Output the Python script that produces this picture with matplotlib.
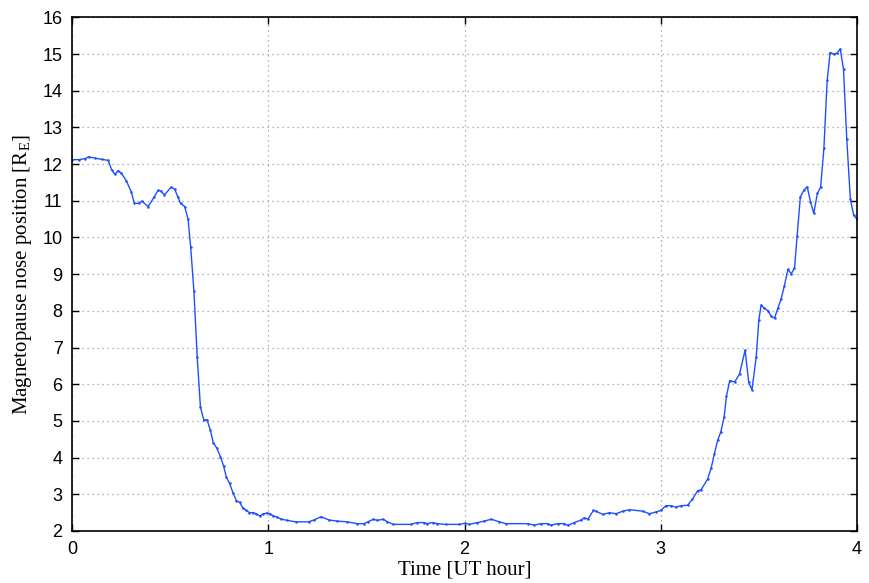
import numpy as np
import matplotlib
matplotlib.use('Agg')
import matplotlib.pyplot as plt

# time in minutes after 0 UT, nose position in Earth radii
minutes = [0, 2, 4, 5, 7, 9, 11, 12, 13, 14, 15, 16.5, 18, 19, 20.3, 21.3, 23.2, 25,
           26.2, 27, 28.2, 30.2, 31.3, 32.3, 33.1, 34.4, 35.4, 36.2, 37.2, 38.2, 39.2,
           40.2, 41.2, 42.2, 43.1, 44.2, 45.3, 46.3, 47.1, 48.1, 49.2, 50.2, 51.2, 52.2,
           53.2, 54.2, 55.3, 56.3, 57.3, 58.3, 59.5, 60.5, 61.5, 62.6, 63.7, 65.7, 68.3,
           72.3, 73.9, 76.1, 78.5, 81, 84.1, 87.1, 89.2, 90.4, 92.1, 93.3, 95.1, 96.4,
           98.2, 103.5, 105.5, 107.6, 108.6, 110.2, 111.7, 114.2, 118.3, 120.1, 121.4,
           123.9, 126, 128.2, 130.6, 132.6, 139.3, 141.3, 143.3, 145.4, 146.4, 148.5,
           150.5, 151.5, 153.6, 155.6, 156.6, 157.7, 159.4, 160.2, 162.3, 164.3, 166.3,
           168.4, 170.4, 174.5, 176.5, 178.6, 180, 181.6, 183.1, 184.6, 186.2, 188.2,
           189.7, 191.3, 192.3, 194.3, 195.4, 196.4, 197.4, 198.4, 199.4, 200.1, 201.1,
           202.6, 204.1, 205.8, 206.9, 207.9, 209.2, 210.0, 210.7, 211.7, 212.8, 213.8,
           214.8, 215.8, 216.8, 217.8, 218.9, 219.9, 220.9, 221.7, 222.7, 223.8, 224.8,
           225.8, 226.8, 227.9, 228.9, 229.9, 230.9, 231.8, 232.9, 233.9, 234.9, 235.9,
           236.9, 238.0, 239.0, 240]
nose_re = [12.12, 12.12, 12.15, 12.20, 12.16, 12.13, 12.10, 11.85, 11.72, 11.82, 11.75,
           11.55, 11.25, 10.93, 10.93, 10.99, 10.84, 11.10, 11.28, 11.27, 11.16, 11.37,
           11.32, 11.10, 10.93, 10.84, 10.50, 9.75, 8.54, 6.75, 5.37, 5.03, 5.03, 4.76,
           4.41, 4.26, 4.03, 3.76, 3.47, 3.30, 3.03, 2.83, 2.78, 2.62, 2.56, 2.50, 2.50,
           2.47, 2.41, 2.46, 2.49, 2.47, 2.41, 2.38, 2.33, 2.29, 2.25, 2.25, 2.30, 2.39,
           2.30, 2.27, 2.25, 2.20, 2.20, 2.25, 2.32, 2.29, 2.32, 2.25, 2.18, 2.18, 2.23,
           2.23, 2.20, 2.23, 2.20, 2.18, 2.18, 2.21, 2.18, 2.23, 2.27, 2.32, 2.25, 2.20,
           2.20, 2.16, 2.20, 2.20, 2.16, 2.20, 2.20, 2.15, 2.23, 2.30, 2.36, 2.32, 2.56,
           2.54, 2.45, 2.50, 2.47, 2.54, 2.58, 2.54, 2.47, 2.52, 2.56, 2.69, 2.69, 2.65,
           2.69, 2.70, 2.87, 3.10, 3.12, 3.41, 3.71, 4.10, 4.47, 4.71, 5.12, 5.68, 6.10,
           6.06, 6.28, 6.93, 6.05, 5.85, 6.75, 7.75, 8.16, 8.07, 8.00, 7.85, 7.80, 8.07,
           8.32, 8.68, 9.13, 9.01, 9.16, 10.04, 11.11, 11.29, 11.38, 10.97, 10.66, 11.20,
           11.37, 12.43, 14.28, 15.04, 15.00, 15.02, 15.14, 14.58, 12.67, 11.04, 10.61,
           10.50]

xticks = [0, 1, 2, 3, 4]
yticks = list(range(2, 17))

t_hours = np.array(minutes) / 60.0

fig = plt.figure(figsize=(8.69, 5.83), dpi=100)
ax = fig.add_axes([0.0832, 0.0892, 0.9029, 0.8811])

ax.plot(t_hours, nose_re, color='#1f4fff', linewidth=1.0,
        marker='.', markersize=1.6)

ax.set_xlim(0, 4)
ax.set_ylim(2, 16)
ax.set_xticks(xticks)
ax.set_yticks(yticks)
ax.grid(True, linestyle=(0, (1, 3)), color='#9a9a9a', linewidth=0.9)

ax.tick_params(direction='in', top=True, right=True, length=5, width=1,
               labelsize=13, pad=7)
for lab in ax.get_xticklabels() + ax.get_yticklabels():
    lab.set_family('Liberation Sans')
for sp in ax.spines.values():
    sp.set_linewidth(1.2)

ax.set_xlabel('Time [UT hour]', family='Liberation Serif', fontsize=15, labelpad=2)
ax.set_ylabel(r'Magnetopause nose position [R$_\mathregular{E}$]',
              family='Liberation Serif', fontsize=15, labelpad=6)

fig.savefig('out.png', dpi=100)
